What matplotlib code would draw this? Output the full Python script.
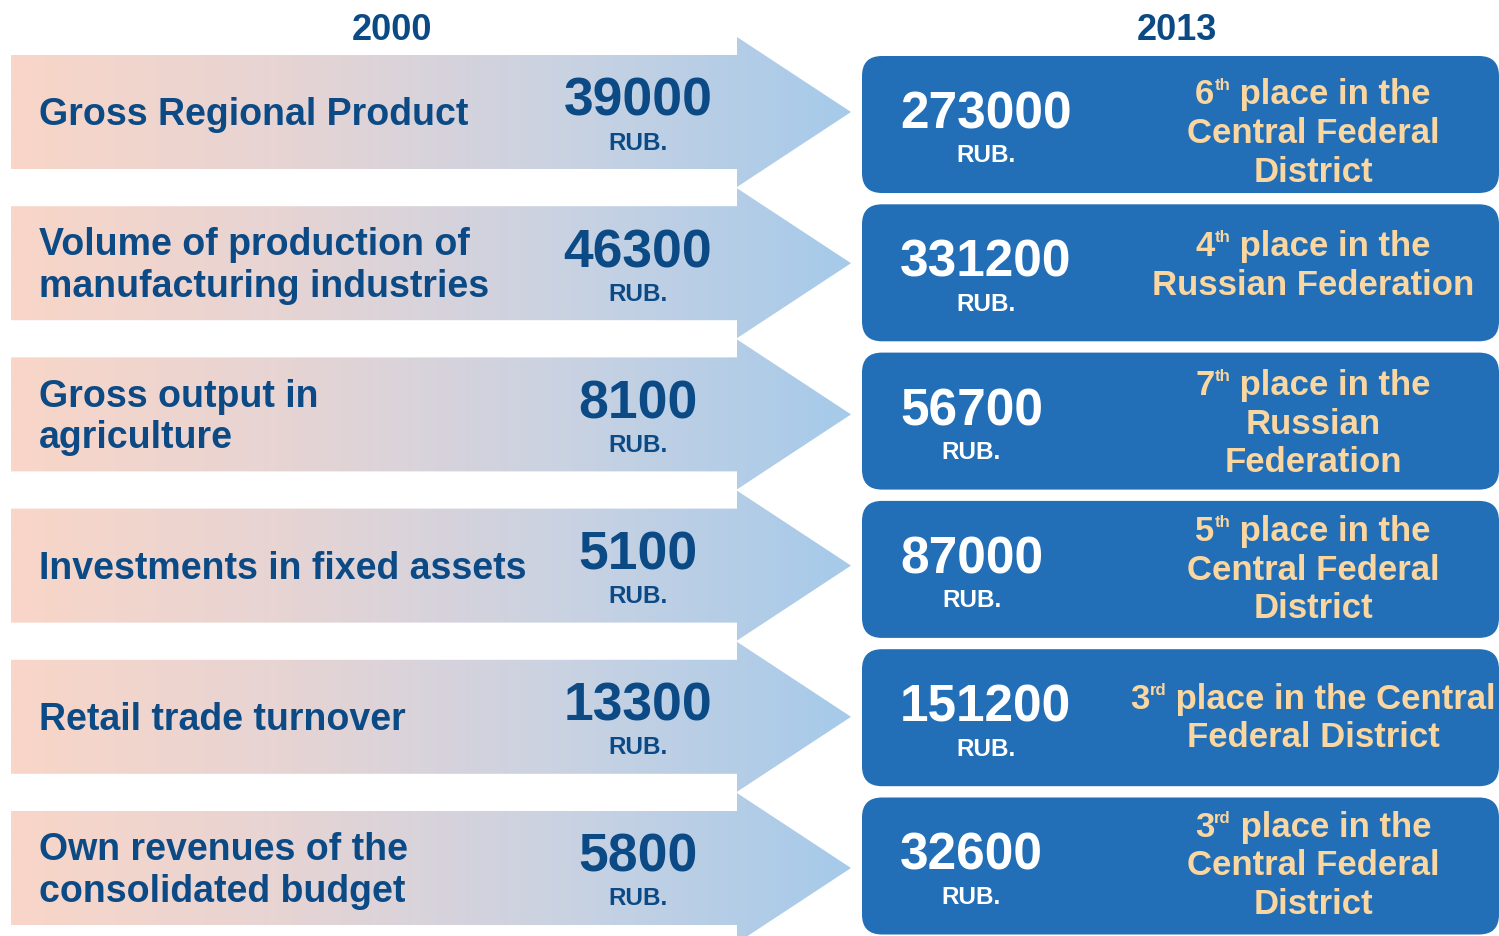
import numpy as np
import matplotlib
matplotlib.use("Agg")
import matplotlib.pyplot as plt
from matplotlib.patches import Polygon, FancyBboxPatch
from matplotlib.colors import LinearSegmentedColormap
from matplotlib.offsetbox import TextArea, HPacker, VPacker, AnnotationBbox

plt.rcParams["font.family"] = ["Liberation Sans", "DejaVu Sans"]

# data
years = ["2000", "2013"]
labels = [
    "Gross Regional Product",
    "Volume of production of\nmanufacturing industries",
    "Gross output in\nagriculture",
    "Investments in fixed assets",
    "Retail trade turnover",
    "Own revenues of the\nconsolidated budget",
]
values_2000 = [39000, 46300, 8100, 5100, 13300, 5800]
values_2013 = [273000, 331200, 56700, 87000, 151200, 32600]
unit = "RUB."
rank_num = ["6", "4", "7", "5", "3", "3"]
rank_suffix = ["th", "th", "th", "th", "rd", "rd"]
rank_lines = [
    [" place in the", "Central Federal", "District"],
    [" place in the", "Russian Federation"],
    [" place in the", "Russian", "Federation"],
    [" place in the", "Central Federal", "District"],
    [" place in the Central", "Federal District"],
    [" place in the", "Central Federal", "District"],
]

DARK = "#0c4a86"
BOX = "#226fb7"
TAN = "#fad6a0"
grad = LinearSegmentedColormap.from_list(
    "g", ["#f9d6c8", "#e6d4d4", "#c9d2e2", "#a6caea"])

W, H = 1499, 937
fig = plt.figure(figsize=(W / 100, H / 100), dpi=100)
ax = fig.add_axes([0, 0, 1, 1])
ax.set_xlim(0, W)
ax.set_ylim(H, 0)
ax.axis("off")
renderer = fig.canvas.get_renderer()

ax.text(392, 40, years[0], ha="center", va="baseline", fontsize=26,
        fontweight="bold", color=DARK)
ax.text(1177, 40, years[1], ha="center", va="baseline", fontsize=26,
        fontweight="bold", color=DARK)

rank_dy = [8, -8, 2, 0, 0, -1]
gimg = np.linspace(0, 1, 400).reshape(1, -1)

for i, lab in enumerate(labels):
    c = 113 + i * 151.2
    # gradient arrow
    pts = [(11, c - 57), (737, c - 57), (737, c - 75), (851, c),
           (737, c + 75), (737, c + 57), (11, c + 57)]
    poly = Polygon(pts, closed=True, facecolor="none", edgecolor="none")
    ax.add_patch(poly)
    im = ax.imshow(gimg, cmap=grad, aspect="auto",
                   extent=[11, 851, c + 75, c - 75], zorder=1)
    im.set_clip_path(poly)

    ax.text(39, c + 2, lab, ha="left", va="center", fontsize=27,
            fontweight="bold", color=DARK, linespacing=1.2, zorder=3)
    ax.text(638, c + 3, str(values_2000[i]), ha="center", va="baseline",
            fontsize=38.5, fontweight="bold", color=DARK, zorder=3)
    ax.text(638, c + 36.5, unit, ha="center", va="baseline", fontsize=17.5,
            fontweight="bold", color=DARK, zorder=3)

    # 2013 box
    bc = 125.5 + i * 148.3
    box = FancyBboxPatch((862, bc - 68.5), 637, 137,
                         boxstyle="round,pad=0,rounding_size=20",
                         facecolor=BOX, edgecolor="none", zorder=2)
    ax.add_patch(box)
    num = ax.text(900, bc + 3, str(values_2013[i]), ha="left", va="baseline",
                  fontsize=37, fontweight="bold", color="white", zorder=3)
    ext = num.get_window_extent(renderer)
    ax.text((ext.x0 + ext.x1) / 2, bc + 37, unit, ha="center", va="baseline",
            fontsize=17.5, fontweight="bold", color="white", zorder=3)

    tp = dict(fontsize=25, fontweight="bold", color=TAN)
    sp = dict(fontsize=12, fontweight="bold", color=TAN)
    first = HPacker(children=[TextArea(rank_num[i], textprops=tp),
                              TextArea(rank_suffix[i], textprops=sp),
                              TextArea(rank_lines[i][0], textprops=tp)],
                    align="top", pad=0, sep=0)
    rows = [first] + [TextArea(s, textprops=tp) for s in rank_lines[i][1:]]
    vp = VPacker(children=rows, align="center", pad=0, sep=4)
    ab = AnnotationBbox(vp, (1313, bc + rank_dy[i]), xycoords="data",
                        box_alignment=(0.5, 0.5), frameon=False, zorder=3)
    ax.add_artist(ab)

fig.savefig("out.png", dpi=100)
